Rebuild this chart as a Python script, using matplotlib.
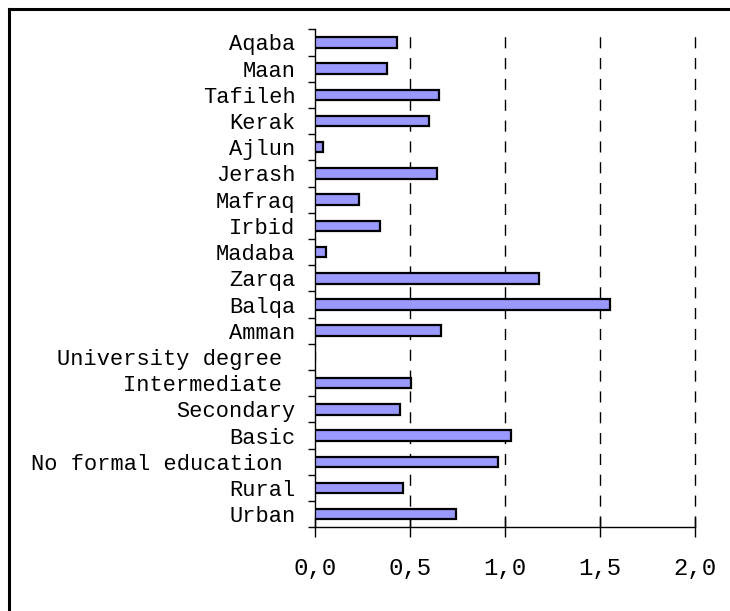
import matplotlib
matplotlib.use("Agg")
import matplotlib.pyplot as plt
from matplotlib.lines import Line2D
from matplotlib.ticker import FuncFormatter, FixedLocator

# Categories listed from top to bottom as they appear on the chart
categories = [
    "Aqaba", "Maan", "Tafileh", "Kerak", "Ajlun", "Jerash", "Mafraq",
    "Irbid", "Madaba", "Zarqa", "Balqa", "Amman",
    "University degree ", "Intermediate ", "Secondary", "Basic",
    "No formal education ", "Rural", "Urban",
]
values = [
    0.43, 0.38, 0.65, 0.60, 0.04, 0.64, 0.23,
    0.34, 0.06, 1.18, 1.55, 0.665,
    0.0, 0.505, 0.445, 1.03,
    0.96, 0.465, 0.74,
]
x_ticks = [0.0, 0.5, 1.0, 1.5, 2.0]

mono = "Liberation Mono"

fig = plt.figure(figsize=(7.30, 6.11), dpi=100)
ax = fig.add_axes([315 / 730, 83.7 / 611, 380.3 / 730, 498 / 611])

# bottom-to-top order for barh
cats = categories[::-1]
vals = values[::-1]
ypos = list(range(len(cats)))

ax.barh(ypos, vals, height=0.4, color="#9999ff", edgecolor="black",
        linewidth=1.6, zorder=3)

ax.set_xlim(0, 2.0)
ax.set_ylim(-0.5, len(cats) - 0.5)

# dashed vertical guides
for xv in x_ticks[1:]:
    ax.axvline(xv, color="black", linewidth=1.0, linestyle=(0, (8, 7)),
               zorder=1, clip_on=False)

# y axis: labels at category centres, tick marks at boundaries
ax.set_yticks(ypos)
ax.set_yticklabels(cats, fontfamily=mono, fontsize=15.8)
ax.yaxis.set_minor_locator(FixedLocator([i - 0.5 for i in range(len(cats) + 1)]))
ax.tick_params(axis="y", which="major", length=0, pad=14)
ax.tick_params(axis="y", which="minor", length=5, width=1.0, direction="out")

# x axis with comma decimal separator
ax.set_xticks(x_ticks)
ax.xaxis.set_major_formatter(FuncFormatter(lambda v, p: f"{v:.1f}".replace(".", ",")))
ax.tick_params(axis="x", which="major", length=14, width=1.0, direction="inout", pad=14.5)
for lab in ax.get_xticklabels():
    lab.set_fontfamily(mono)
    lab.set_fontsize(17.3)

for s in ("top", "right"):
    ax.spines[s].set_visible(False)
for s in ("left", "bottom"):
    ax.spines[s].set_linewidth(1.0)

# outer frame around the figure
fig.add_artist(Line2D([9 / 730, 1.0], [1 - 9 / 611, 1 - 9 / 611],
                      transform=fig.transFigure, color="black", linewidth=2.2))
fig.add_artist(Line2D([9 / 730, 9 / 730], [0.0, 1 - 9 / 611],
                      transform=fig.transFigure, color="black", linewidth=2.2))

fig.savefig("out.png", dpi=100)
